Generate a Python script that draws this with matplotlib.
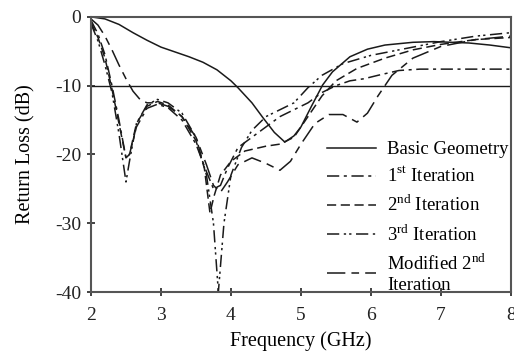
import matplotlib
matplotlib.use("Agg")
import matplotlib.pyplot as plt

plt.rcParams['font.family'] = ['Liberation Serif', 'DejaVu Serif']
plt.rcParams['mathtext.fontset'] = 'custom'
plt.rcParams['mathtext.rm'] = 'Liberation Serif'
plt.rcParams['axes.unicode_minus'] = False

# Basic geometry (solid)
f_basic = [2.0, 2.2, 2.4, 2.6, 2.8, 3.0, 3.2, 3.4, 3.6, 3.8, 4.0, 4.1, 4.3, 4.46,
           4.62, 4.77, 4.9, 5.0, 5.15, 5.31, 5.45, 5.7, 5.95, 6.2, 6.6, 6.9, 7.4, 7.7, 8.0]
rl_basic = [0.0, -0.3, -1.1, -2.3, -3.4, -4.4, -5.1, -5.8, -6.6, -7.7, -9.3, -10.3, -12.5, -14.7,
            -16.8, -18.2, -17.3, -16.0, -13.0, -9.9, -8.0, -5.8, -4.7, -4.1, -3.7, -3.6, -3.8, -4.1, -4.5]

# 1st iteration (dash-dot)
f_it1 = [2.0, 2.1, 2.2, 2.3, 2.4, 2.5, 2.55, 2.65, 2.8, 2.95, 3.1, 3.3, 3.5, 3.65, 3.75,
         3.85, 3.95, 4.1, 4.3, 4.5, 4.7, 4.9, 5.1, 5.3, 5.5, 5.7, 5.9, 6.1, 6.4, 6.7, 8.0]
rl_it1 = [-0.5, -2.5, -5.5, -10.0, -15.0, -20.5, -20.0, -16.0, -13.3, -12.7, -13.2, -15.0, -18.5, -22.5, -25.0,
          -24.5, -22.0, -19.0, -17.5, -16.0, -14.5, -13.5, -12.5, -11.0, -10.0, -9.3, -9.0, -8.5, -7.8, -7.6, -7.6]

# 2nd iteration (dashed)
f_it2 = [2.0, 2.1, 2.2, 2.3, 2.4, 2.5, 2.55, 2.65, 2.8, 2.95, 3.1, 3.3, 3.5, 3.62, 3.7,
         3.76, 3.85, 4.0, 4.2, 4.5, 4.7, 4.9, 5.1, 5.3, 5.5, 5.8, 6.2, 6.6, 7.0, 7.5, 8.0]
rl_it2 = [-0.8, -3.0, -6.0, -10.5, -15.5, -20.5, -20.0, -15.5, -13.0, -12.3, -12.8, -14.5, -18.0, -22.0, -28.5,
          -26.0, -23.0, -21.0, -19.5, -18.8, -18.5, -17.5, -14.5, -11.5, -9.3, -7.5, -6.0, -4.8, -4.0, -3.3, -3.0]

# 3rd iteration (dash-dot-dot)
f_it3 = [2.0, 2.1, 2.2, 2.3, 2.4, 2.5, 2.55, 2.65, 2.8, 2.95, 3.1, 3.3, 3.5, 3.65, 3.75,
         3.82, 3.9, 4.0, 4.15, 4.3, 4.5, 4.7, 4.9, 5.1, 5.3, 5.6, 6.0, 6.5, 7.0, 7.5, 8.0]
rl_it3 = [-1.0, -3.5, -7.0, -11.0, -17.0, -24.0, -21.0, -15.5, -12.8, -12.0, -12.5, -14.0, -17.5, -23.0, -30.0,
          -40.0, -30.0, -23.0, -19.0, -16.5, -14.5, -13.5, -12.5, -10.3, -8.5, -6.8, -5.6, -4.6, -3.6, -2.8, -2.3]

# Modified 2nd iteration (long dash - short dash)
f_mod = [2.0, 2.1, 2.2, 2.3, 2.4, 2.5, 2.6, 2.7, 2.8, 2.95, 3.1, 3.3, 3.5, 3.65, 3.75, 3.85,
         3.95, 4.1, 4.3, 4.5, 4.7, 4.85, 5.0, 5.2, 5.4, 5.6, 5.8, 5.95, 6.1, 6.3, 6.6, 7.0, 7.5, 8.0]
rl_mod = [-0.3, -1.2, -2.8, -4.8, -7.0, -9.0, -10.8, -12.0, -12.5, -12.5, -13.0, -14.5, -17.5, -21.5, -24.5, -25.5,
          -24.0, -21.5, -20.5, -21.3, -22.3, -21.0, -18.5, -15.5, -14.2, -14.2, -15.3, -14.0, -11.5, -8.5, -6.0, -4.3, -3.3, -2.8]

fig = plt.figure(figsize=(5.14, 3.51), dpi=100)
ax = fig.add_axes([0.177, 0.168, 0.817, 0.784])

col = '#1a1a1a'
lw = 1.1
ax.plot(f_basic, rl_basic, color=col, lw=lw, ls='-', label='Basic Geometry')
ax.plot(f_it1, rl_it1, color=col, lw=lw, ls=(0, (8, 3, 2, 3)), label='1$^{\\rm st}$ Iteration')
ax.plot(f_it2, rl_it2, color=col, lw=lw, ls=(0, (6, 3)), label='2$^{\\rm nd}$ Iteration')
ax.plot(f_it3, rl_it3, color=col, lw=lw, ls=(0, (8, 3, 1.5, 2, 1.5, 3)), label='3$^{\\rm rd}$ Iteration')
ax.plot(f_mod, rl_mod, color=col, lw=lw, ls=(0, (12, 4, 5, 4)), label='Modified 2$^{\\rm nd}$\nIteration')

ax.axhline(-10, color=col, lw=1.0)

ax.set_xlim(2, 8)
ax.set_ylim(-40, 0)
ax.set_xticks(range(2, 9))
ax.set_yticks([-40, -30, -20, -10, 0])
ax.tick_params(direction='inout', length=6, width=1.2, labelsize=14, colors='#222222', pad=4)
ax.tick_params(axis='x', pad=8)
for s in ax.spines.values():
    s.set_linewidth(1.5)
    s.set_color('#555555')

ax.set_xlabel('Frequency (GHz)', fontsize=14.5, labelpad=5)
ax.set_ylabel('Return Loss (dB)', fontsize=14.5, labelpad=14)

leg = ax.legend(loc='upper left', bbox_to_anchor=(0.562, 0.548), frameon=False,
                fontsize=13.5, handlelength=2.6, handletextpad=0.6, labelspacing=0.45,
                borderpad=0, borderaxespad=0)

fig.savefig('out.png', dpi=100, facecolor='white')
